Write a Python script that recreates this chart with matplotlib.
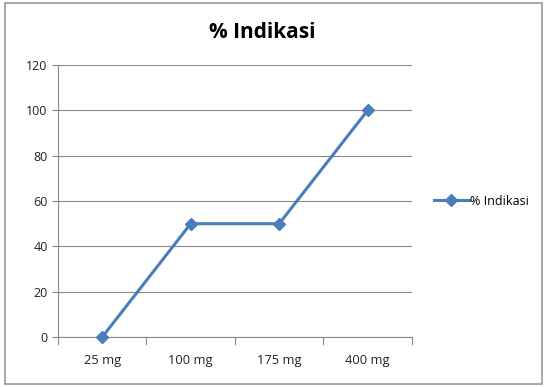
import matplotlib.pyplot as plt
from matplotlib.patches import Rectangle

doses = ["25 mg", "100 mg", "175 mg", "400 mg"]
indikasi = [0, 50, 50, 100]
y_ticks = [0, 20, 40, 60, 80, 100, 120]

plt.rcParams['font.family'] = ['Open Sans', 'DejaVu Sans']

fig = plt.figure(figsize=(5.47, 3.87), dpi=100)
ax = fig.add_axes([0.106, 0.129, 0.647, 0.703])

# outer chart border like the spreadsheet frame
fig.patches.append(Rectangle((0.009, 0.008), 0.982, 0.984, transform=fig.transFigure,
                             fill=False, edgecolor="#9a9a9a", linewidth=1.2))

x = range(len(doses))
ax.plot(x, indikasi, color="#4a7ebb", linewidth=2.2, marker="D", markersize=6,
        label="% Indikasi", clip_on=False, zorder=3)

ax.set_xlim(-0.5, len(doses) - 0.5)
ax.set_ylim(0, 120)
ax.set_yticks(y_ticks)
ax.set_yticklabels([str(v) for v in y_ticks], fontsize=9, color="#222222")
ax.set_xticks(list(x))
ax.set_xticklabels(doses, fontsize=9.3, color="#222222")
ax.tick_params(axis="x", length=0, pad=12)
ax.tick_params(axis="y", length=4, color="#888888", direction="out")

# boundary tick marks between categories
for b in [-0.5, 0.5, 1.5, 2.5, 3.5]:
    ax.plot([b, b], [0, -3], color="#888888", linewidth=0.8, clip_on=False)

ax.grid(axis="y", color="#888888", linewidth=0.8)
ax.set_axisbelow(True)
for side in ["top", "right"]:
    ax.spines[side].set_visible(False)
ax.spines["left"].set_color("#888888")
ax.spines["bottom"].set_color("#888888")

fig.text(0.48, 1 - 33 / 387, "% Indikasi", fontsize=15, fontweight="bold",
         ha="center", va="center")

ax.legend(loc="center left", bbox_to_anchor=(1.03, 0.5), frameon=False,
          fontsize=9, handlelength=2.8, handletextpad=0.1)

fig.savefig("out.png", dpi=100)
